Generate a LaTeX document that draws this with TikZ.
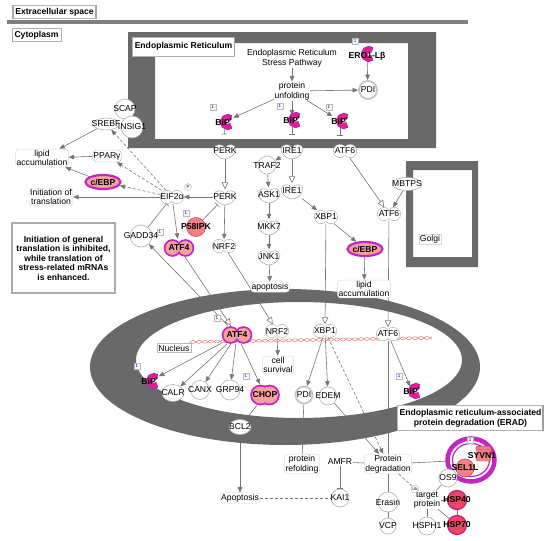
\documentclass[tikz,border=0pt]{standalone}
\usepackage{fontspec}
\setmainfont{Liberation Sans}
\usetikzlibrary{arrows.meta,shapes.geometric,calc}
\pgfdeclarelayer{back}
\pgfdeclarelayer{bg}
\pgfsetlayers{back,bg,main}
\definecolor{framegray}{RGB}{105,105,105}
\definecolor{lgray}{RGB}{118,118,118}
\definecolor{ogray}{RGB}{175,175,175}
\definecolor{mag}{RGB}{196,38,196}
\definecolor{pinkf}{RGB}{246,160,160}
\definecolor{bipc}{RGB}{232,28,140}
\definecolor{bipr}{RGB}{160,40,190}
\definecolor{salm}{RGB}{242,130,130}
\definecolor{salmd}{RGB}{200,70,110}
\definecolor{hspf}{RGB}{240,70,100}
\definecolor{hspd}{RGB}{190,30,130}
\definecolor{nred}{RGB}{232,120,120}
\definecolor{bargray}{RGB}{128,128,128}
\newcommand\cz[1]{\makebox[0pt]{#1}}
\tikzset{
 lab/.style={font=\fontsize{8.6}{9.6}\selectfont, inner sep=0.5pt, align=center},
 blab/.style={font=\bfseries\fontsize{8.6}{9.6}\selectfont, inner sep=0.5pt, align=center},
 cbox/.style={blab, draw=gray!60, line width=0.6pt, fill=white, inner xsep=2.5pt, inner ysep=2.5pt},
 proc/.style={lab, draw=gray!28, line width=0.5pt, rounded corners=3pt, fill=white, inner sep=1pt},
 gc/.style={lab, circle, draw=ogray, line width=0.6pt, fill=white, minimum size=#1, inner sep=0pt},
 ge/.style 2 args={lab, ellipse, draw=ogray, line width=0.6pt, fill=white, minimum width=#1, minimum height=#2, inner sep=0pt},
 pdic/.style={lab, circle, draw=gray!45, line width=1.8pt, fill=white, minimum size=#1, inner sep=0pt},
 pc/.style={blab, circle, fill=salm, draw=salmd, line width=0.6pt, minimum size=#1, inner sep=0pt},
 hc/.style={blab, circle, fill=hspf, draw=hspd, line width=1.2pt, minimum size=#1, inner sep=0pt},
 ce/.style={blab, ellipse, fill=pinkf, draw=mag, line width=2.2pt, minimum width=35, minimum height=14, inner sep=0pt},
 hk/.style={lab, minimum width=22, minimum height=15, inner sep=0pt},
 hp/.style={lab, minimum width=23, minimum height=13, inner sep=0pt},
 hpp/.style 2 args={blab, minimum width=#1, minimum height=#2, inner sep=0pt},
 one/.style={draw=gray!55, fill=blue!3, text=blue!60!black, font=\fontsize{4.5}{5}\selectfont, inner sep=0.4pt, minimum width=5.5pt, minimum height=6.5pt},
 arr/.style={draw=lgray, line width=0.6pt, -{Triangle[length=5.5pt,width=4.5pt]}},
 harr/.style={draw=lgray, line width=0.6pt, -{Triangle[open,length=7pt,width=6.5pt,fill=white]}},
 inh/.style={draw=lgray, line width=0.6pt, -{Bar[width=6pt]}},
 darr/.style={arr, dash pattern=on 3pt off 2pt},
 ln/.style={draw=lgray, line width=0.6pt},
 dln/.style={ln, dash pattern=on 3pt off 2pt},
 pics/kin/.style={code={\draw[ogray, fill=white, line width=0.6pt] (-11,-2) .. controls (-11,-7) and (-2,-8) .. (0,-3) .. controls (2,-8) and (11,-7) .. (11,-2) .. controls (11,4) and (4,8) .. (0,8) .. controls (-4,8) and (-11,4) .. (-11,-2) -- cycle;}},
 pics/pw/.style={code={\draw[ogray, line width=1.2pt] (-5,0) circle[radius=6.3] (5,0) circle[radius=6.3]; \fill[white] (-5,0) circle[radius=6.3] (5,0) circle[radius=6.3];}},
 pics/pp/.style 2 args={code={\draw[mag, line width=3.6pt] (-#1,0) circle[radius=#2] (#1,0) circle[radius=#2]; \fill[pinkf] (-#1,0) circle[radius=#2] (#1,0) circle[radius=#2];}},
 pics/bip/.style={code={\draw[bipr, line width=6pt] (50:5) arc[start angle=50, end angle=310, radius=5]; \draw[bipc, line width=4.2pt] (50:5) arc[start angle=50, end angle=310, radius=5];}},
}
\begin{document}
\begin{tikzpicture}[x=1pt,y=-1pt]
\useasboundingbox (0,0) rectangle (550,541);
\begin{pgfonlayer}{back}
\fill[white] (0,0) rectangle (550,541);
\end{pgfonlayer}
% compartments
\fill[bargray] (7,20) rectangle (468,24);
\fill[framegray, even odd rule] (128,32) rectangle (436,148) (155,43) rectangle (408,139);
\fill[framegray, even odd rule] (406,161) rectangle (478,267) (413,170) rectangle (472,257);
\fill[framegray, even odd rule] (285,367) ellipse[x radius=195, y radius=78] (299,360) ellipse[x radius=163, y radius=58];
\draw[nred, line width=0.5pt] plot[domain=190:432, samples=160] (\x, {342-0.017*(\x-190)+1.5*sin(30*(\x-190))});
\draw[nred, line width=0.5pt] plot[domain=190:432, samples=160] (\x, {342-0.017*(\x-190)-1.5*sin(30*(\x-190))});

% labels
\node[cbox] (ext) at (54.5,12) {Extracellular space};
\draw[gray!70, line width=1.5pt] ([xshift=0.75pt]ext.north west) -- ([xshift=0.75pt]ext.south west);
\draw[gray!70, line width=1.5pt] ([xshift=-0.75pt]ext.north east) -- ([xshift=-0.75pt]ext.south east);
\node[cbox] (cyt) at (36.5,35) {Cytoplasm};
\draw[gray!70, line width=1.5pt] ([xshift=0.75pt]cyt.north west) -- ([xshift=0.75pt]cyt.south west);
\node[cbox, minimum height=19] (erl) at (183.5,46.5) {Endoplasmic Reticulum};
\draw[gray!75, line width=1.5pt] ([xshift=-0.75pt]erl.north east) -- ([xshift=-0.75pt]erl.south east);
\node[lab, draw=gray!30, fill=white, inner sep=1pt] (golgi) at (430,239) {Golgi};
\node[lab, draw=gray!55, fill=white, inner sep=1.5pt] (nucl) at (174,348) {Nucleus};
\node[blab, draw=gray!65, line width=1.2pt, fill=white, minimum width=103, minimum height=70, font=\bfseries\fontsize{8.6}{9.5}\selectfont] (info) at (63.5,258) {Initiation of general\\translation is inhibited,\\while translation of\\stress-related mRNAs\\is enhanced.};
\node[blab, draw=gray!60, line width=0.6pt, fill=white, minimum width=146, minimum height=25] (eradl) at (470.5,418) {Endoplasmic reticulum-associated\\protein degradation (ERAD)};
\draw[gray!75, line width=2pt] ([xshift=-1pt]eradl.north east) -- ([xshift=-1pt]eradl.south east);

% ER
\node[lab] (ers) at (292,58) {Endoplasmic Reticulum\\Stress Pathway};
\node[lab] (unf) at (292,91) {protein\\unfolding};
\pic at (369,54) {bip};
\node[blab] (ero) at (367,56) {ERO1-Lβ};
\node[pdic=18] (pdi1) at (368,90) {\cz{PDI}};
\pic at (228,122) {bip}; \node[blab] (bip1) at (224,122) {BiP\textsuperscript{*}};
\pic at (296,120) {bip}; \node[blab] (bip2) at (292,120) {BiP\textsuperscript{*}};
\pic at (344,121) {bip}; \node[blab] (bip3) at (340,121) {BiP\textsuperscript{*}};
\node[one] (o1) at (355,41) {1};
\node[one] (o2) at (213,107) {1};
\node[one] (o3) at (280,106) {1};
\node[one] (o4) at (329,107) {1};
\pic at (225,151) {kin}; \node[hk] (perk1) at (225,151) {PERK};
\pic at (292,151) {kin}; \node[hk] (ire1a) at (292,151) {IRE1};
\pic at (345,151) {pw}; \node[hp] (atf6a) at (345,151) {ATF6};

% cytoplasm left
\node[gc=20] (scap) at (125,109) {\cz{SCAP}};
\node[gc=22] (insig) at (132,127) {\cz{INSIG1}};
\node[ge={26}{12}, fill=none] (srebf) at (106,124) {\cz{SREBF}};
\node[proc] (lipid1) at (42,158) {lipid\\accumulation};
\node[lab, draw=ogray, rounded corners=4pt, fill=white, minimum width=29, minimum height=12, inner sep=0pt] (pparg) at (107,156) {\cz{PPARγ}};
\node[ce] (cebp1) at (103,182) {\cz{c/EBP}};
\node[proc] (init) at (51,197) {Initiation of\\translation};
\pic at (172,197) {pw}; \node[hp] (eif) at (172,197) {EIF2α};
\node[circle, draw=gray!60, fill=white, inner sep=0.3pt, minimum size=7, font=\fontsize{4.5}{5}\selectfont] (pph) at (188,187) {P};
\node[gc=22] (gadd) at (141,236) {\cz{GADD34}};
\node[one] (o5) at (160,232) {1};
\pic at (179,248) {pp={6.5}{7}}; \node[hpp={31}{18}] (atf4a) at (179,248) {ATF4};
\node[pc=19] (p58) at (196,227) {\cz{P58IPK}};
\node[one] (o6) at (186,213) {1};
\pic at (225,197) {kin}; \node[hk] (perk2) at (225,197) {PERK};
\pic at (224,246) {pw}; \node[hp] (nrf2a) at (224,246) {NRF2};

% cytoplasm middle/right
\node[gc=18] (traf2) at (267,165) {\cz{TRAF2}};
\pic at (269,195) {kin}; \node[hk] (ask1) at (269,195) {ASK1};
\pic at (269,227) {kin}; \node[hk] (mkk7) at (269,227) {MKK7};
\pic at (269,257) {kin}; \node[hk] (jnk1) at (269,257) {JNK1};
\node[proc] (apop1) at (270,287) {apoptosis};
\pic at (292,191) {kin}; \node[hk] (ire1b) at (292,191) {IRE1};
\pic at (326,217) {pw}; \node[hp] (xbp1a) at (326,217) {XBP1};
\node[ce] (cebp2) at (365,249) {\cz{c/EBP}};
\node[proc] (lipid2) at (364,289) {lipid\\accumulation};
\pic at (389,214) {pw}; \node[hp] (atf6b) at (389,214) {ATF6};
\node[ge={30}{13}] (mbtps) at (407,184) {\cz{MBTPS}};

% nucleus
\pic at (237,335) {pp={6.5}{7}}; \node[hpp={31}{18}] (atf4b) at (237,335) {ATF4};
\node[one] (o7) at (217,318) {1};
\pic at (277,331) {pw}; \node[hp] (nrf2b) at (277,331) {NRF2};
\pic at (325,331) {pw}; \node[hp] (xbp1b) at (325,331) {XBP1};
\pic at (388,334) {pw}; \node[hp] (atf6c) at (388,334) {ATF6};
\node[proc] (surv) at (278,365) {cell\\survival};
\pic at (154,381) {bip}; \node[blab] (bip4) at (150,381) {BiP\textsuperscript{*}};
\node[one] (o8) at (137,366) {1};
\pic at (416,391) {bip}; \node[blab] (bip5) at (412,391) {BiP\textsuperscript{*}};
\node[one] (o9) at (399,376) {1};
\node[ge={22}{17}] (calr) at (173,393) {\cz{CALR}};
\node[gc=19] (canx) at (200,390) {\cz{CANX}};
\node[gc=20] (grp94) at (230,390) {\cz{GRP94}};
\pic at (265,395) {pp={4.5}{8.5}}; \node[hpp={29}{21}] (chop) at (265,395) {CHOP};
\node[one] (o10) at (246,376) {1};
\node[pdic=17] (pdi2) at (304,395) {\cz{PDI}};
\node[gc=18] (edem) at (328,396) {\cz{EDEM}};
\node[ge={22}{15}] (bcl2) at (240,427) {\cz{BCL2}};

% bottom
\node[proc] (apop2) at (240,498) {Apoptosis};
\node[proc] (refold) at (302,464) {protein\\refolding};
\node[lab] (amfr) at (340,462) {AMFR};
\node[gc=18] (kai1) at (340,498) {\cz{KAI1}};
\node[proc] (pdeg) at (388,464) {Protein\\degradation};
\node[gc=20] (erasin) at (388,502) {\cz{Erasin}};
\node[gc=16] (vcp) at (388,526) {\cz{VCP}};
\draw[mag, line width=4.5pt] (471,460) ellipse[x radius=23.5, y radius=21.5];
\draw[mag, line width=1.2pt] (471,460) ellipse[x radius=18.5, y radius=16.5];
\node[circle, minimum size=50, inner sep=0pt] (ring) at (471,460) {};
\node[one] (o11) at (470,440) {1};
\draw[fill=salm, draw=salmd, rounded corners=2pt] (476,446) rectangle (491,461);
\draw[salmd] (483.5,448) ellipse[x radius=7.5, y radius=2];
\node[blab] (syvn1) at (482,456) {SYVN1};
\node[pc=18] (sel1l) at (465,468) {\cz{SEL1L}};
\node[gc=18] (os9) at (448,478) {\cz{OS9}};
\node[lab] (target) at (427,500) {target\\protein};
\node[circle, draw=gray!60, fill=white, inner sep=0.2pt, minimum size=8, font=\fontsize{4}{4}\selectfont] (ub) at (415,489) {Ub};
\node[hc=19] (hsp40) at (457,500) {\cz{HSP40}};
\node[hc=19] (hsp70) at (457,525) {\cz{HSP70}};
\node[gc=18] (hsph1) at (427,526) {\cz{HSPH1}};

\begin{pgfonlayer}{bg}
% ER
\draw[arr] (ers) -- (unf);
\draw[arr] (ero) -- (pdi1);
\draw[arr] (unf) -- (pdi1);
\draw[arr] (unf) -- (bip1);
\draw[arr] (unf) -- (bip2);
\draw[arr] (unf) -- (bip3);
\draw[inh, shorten >=9pt] (bip1) -- (perk1);
\draw[inh, shorten >=9pt] (bip2) -- (ire1a);
\draw[inh, shorten >=9pt] (bip3) -- (bip3 |- atf6a.north);
% cytoplasm
\draw[harr] (perk1) -- (perk2);
\draw[harr] (ire1a) -- (ire1b);
\draw[harr] (atf6a) -- (atf6b);
\draw[arr] (mbtps) -- (atf6b);
\draw[arr] (ire1a) -- (traf2);
\draw[arr] (traf2) -- (ask1);
\draw[arr] (ask1) -- (mkk7);
\draw[arr] (mkk7) -- (jnk1);
\draw[arr] (jnk1) -- (apop1);
\draw[arr] (ire1b) -- (xbp1a);
\draw[arr] (xbp1a) -- (cebp2);
\draw[arr] (cebp2) -- (lipid2);
\draw[arr] (perk2) -- (eif);
\draw[arr] (perk2) -- (nrf2a);
\draw[inh] (p58) -- (perk2);
\draw[inh] (gadd) -- (eif);
\draw[arr] (eif) -- (atf4a);
\draw[arr] (eif) -- (init);
\draw[darr] (eif) -- (cebp1);
\draw[darr] (eif) -- (pparg);
\draw[darr] (eif) -- (srebf);
\draw[arr] (pparg) -- (lipid1);
\draw[arr] (cebp1) -- (lipid1);
\draw[arr] (srebf) -- (lipid1);
\draw[harr] (atf4a) -- (atf4b);
\draw[arr] (atf4b) -- (gadd);
\draw[harr] (nrf2a) -- (nrf2b);
\draw[harr] (xbp1a) -- (xbp1b);
\draw[harr] (atf6b) -- (atf6c);
% nucleus
\draw[arr] (atf4b) -- (bip4);
\draw[arr] (atf4b) -- (calr);
\draw[arr] (atf4b) -- (canx);
\draw[arr] (atf4b) -- (grp94);
\draw[arr] (atf4b) -- (chop);
\draw[arr] (nrf2b) -- (surv);
\draw[arr] (xbp1b) -- (pdi2);
\draw[arr] (xbp1b) -- (edem);
\draw[darr] (xbp1b) -- (pdeg);
\draw[arr] (edem) -- (pdeg);
\draw[arr] (atf6c) -- (bip5);
\draw[ln] (atf6c) -- (pdeg);
\draw[inh] (chop) -- (bcl2);
\draw[arr] (bcl2) -- (apop2);
\draw[ln] (pdi2) -- (refold);
% ERAD
\draw[ln] (amfr) -- (pdeg);
\draw[ln] (pdeg) -- (ring);
\draw[inh] (amfr) -- (kai1);
\draw[dln] (apop2) -- (kai1);
\draw[ln] (pdeg) -- (erasin);
\draw[ln] (erasin) -- (vcp);
\draw[darr] (pdeg) -- (target);
\draw[ln] (os9) -- (target);
\draw[ln] (target) -- (hsp40);
\draw[ln] (target) -- (hsp70);
\draw[ln] (hsp40) -- (hsp70);
\draw[ln] (target) -- (hsph1);
\end{pgfonlayer}
\end{tikzpicture}
\end{document}
